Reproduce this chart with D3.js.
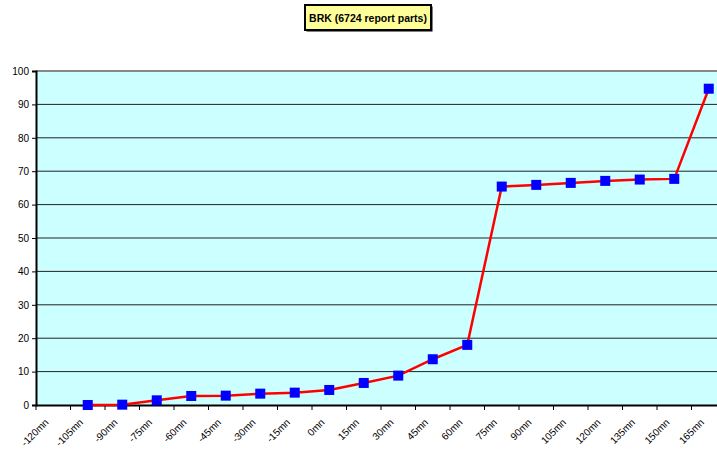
<!DOCTYPE html>
<html>
<head>
<meta charset="utf-8">
<script src="https://cdn.jsdelivr.net/npm/d3@7"></script>
<style>
  body { margin: 0; background: #fff; }
  text { font-family: "Liberation Sans", Arial, sans-serif; }
</style>
</head>
<body>
<div id="graph"></div>
<script>
// data
const categories = ["-120mn","-105mn","-90mn","-75mn","-60mn","-45mn","-30mn","-15mn","0mn","15mn",
  "30mn","45mn","60mn","75mn","90mn","105mn","120mn","135mn","150mn","165mn"]
const values = [null, 0, 0.1, 1.4, 2.7, 2.8, 3.4, 3.7, 4.5, 6.6,
  8.8, 13.7, 18, 65.4, 65.9, 66.5, 67.1, 67.5, 67.7, 94.7]
const yTicks = [0,10,20,30,40,50,60,70,80,90,100]
const title = "BRK (6724 report parts)"

const W = 717, H = 452
const plot = {left: 36, top: 71, bottom: 405, step: 34.5}

const svg = d3.select("#graph")
  .append("svg")
  .attr("width", W)
  .attr("height", H)

svg.append("rect").attr("width", W).attr("height", H).attr("fill", "#fff")

// scales
const x = d3.scaleBand()
  .domain(categories)
  .range([plot.left, plot.left + plot.step * categories.length])
  .padding(0)

const y = d3.scaleLinear()
  .domain([0, 100])
  .range([plot.bottom, plot.top])

// plot background
svg.append("rect")
  .attr("x", plot.left)
  .attr("y", plot.top)
  .attr("width", x.range()[1] - plot.left)
  .attr("height", plot.bottom - plot.top)
  .attr("fill", "#ccffff")

// grid lines
svg.append("g")
  .selectAll("line")
  .data(yTicks.filter(d => d > 0 && d < 100))
  .join("line")
  .attr("x1", plot.left)
  .attr("x2", W)
  .attr("y1", d => y(d))
  .attr("y2", d => y(d))
  .attr("stroke", "#222")
  .attr("stroke-width", 1)

// top border
svg.append("line")
  .attr("x1", plot.left).attr("x2", W)
  .attr("y1", y(100)).attr("y2", y(100))
  .attr("stroke", "#888").attr("stroke-width", 2)

// y axis
const yAxis = svg.append("g")
  .attr("transform", `translate(${plot.left},0)`)
  .call(d3.axisLeft(y).tickValues(yTicks).tickSize(4).tickPadding(3))
yAxis.select(".domain").attr("stroke", "#000").attr("stroke-width", 2)
yAxis.selectAll(".tick line").attr("stroke", "#000")
yAxis.selectAll("text").attr("font-size", 10).attr("fill", "#000")
  .style("font-family", "Liberation Sans, Arial, sans-serif")

// x axis
const xAxis = svg.append("g")
  .attr("transform", `translate(0,${plot.bottom})`)
  .call(d3.axisBottom(x).tickSize(0).tickFormat(""))
xAxis.select(".domain").attr("stroke", "#000").attr("stroke-width", 2)

// tick marks at category boundaries
svg.append("g")
  .selectAll("line")
  .data(categories)
  .join("line")
  .attr("x1", d => x(d))
  .attr("x2", d => x(d))
  .attr("y1", plot.bottom)
  .attr("y2", plot.bottom + 5)
  .attr("stroke", "#000")

// rotated category labels
svg.append("g")
  .selectAll("text")
  .data(categories)
  .join("text")
  .attr("transform", d => `translate(${x(d) + x.bandwidth() / 2 - 4},${plot.bottom + 18}) rotate(-45)`)
  .attr("text-anchor", "end")
  .attr("font-size", 10)
  .attr("fill", "#000")
  .text(d => d)

// line
const pts = categories.map((c, i) => ({c, v: values[i]})).filter(d => d.v != null)

const brkLine = d3.line()
  .x(d => x(d.c) + x.bandwidth() / 2)
  .y(d => y(d.v))

svg.append("path")
  .datum(pts)
  .attr("d", brkLine)
  .style("fill", "none")
  .style("stroke", "#ff0000")
  .style("stroke-width", "2.5px")

// markers
const ms = 10
svg.append("g")
  .selectAll("rect")
  .data(pts)
  .join("rect")
  .attr("x", d => x(d.c) + x.bandwidth() / 2 - ms / 2)
  .attr("y", d => y(d.v) - ms / 2)
  .attr("width", ms)
  .attr("height", ms)
  .attr("fill", "#0000ff")

// title box
const tb = svg.append("g").attr("transform", "translate(305,5)")
tb.append("rect")
  .attr("x", 1.5).attr("y", 1.5)
  .attr("width", 126).attr("height", 25)
  .attr("fill", "#000")
tb.append("rect")
  .attr("width", 126).attr("height", 25)
  .attr("fill", "#ffff99")
  .attr("stroke", "#000")
  .attr("stroke-width", 2)
tb.append("text")
  .attr("x", 63).attr("y", 16.5)
  .attr("text-anchor", "middle")
  .attr("font-size", 10.5)
  .attr("font-weight", "bold")
  .text(title)
</script>
</body>
</html>
